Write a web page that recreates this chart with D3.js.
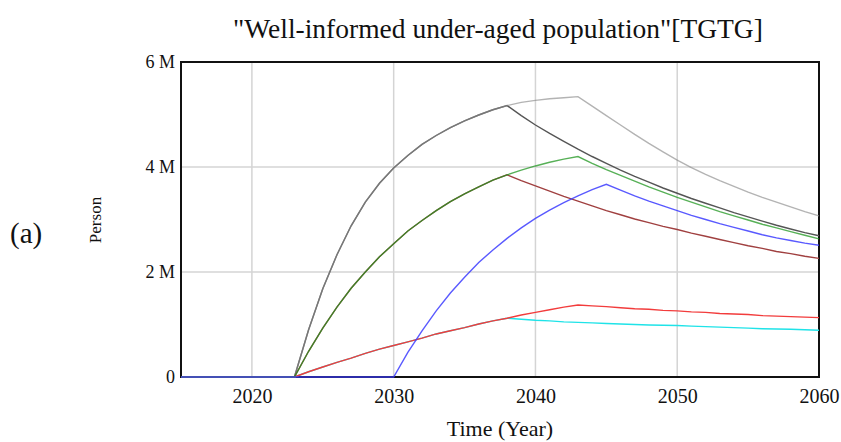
<!DOCTYPE html>
<html>
<head>
<meta charset="utf-8">
<script src="https://cdn.jsdelivr.net/npm/d3@7"></script>
<style>
  body { margin: 0; background: #fff; }
  text { font-family: "Liberation Serif", "Times New Roman", serif; fill: #111; }
</style>
</head>
<body>
<svg id="chart" width="841" height="442"></svg>
<script>
"use strict";

// years on the time axis
var years = [2015, 2016, 2017, 2018, 2019, 2020, 2021, 2022, 2023, 2024, 2025, 2026, 2027, 2028, 2029, 2030,
    2031, 2032, 2033, 2034, 2035, 2036, 2037, 2038, 2039, 2040, 2041, 2042, 2043, 2044, 2045, 2046,
    2047, 2048, 2049, 2050, 2051, 2052, 2053, 2054, 2055, 2056, 2057, 2058, 2059, 2060]

// values in millions of persons, one per year
var lightGray = [0, 0, 0, 0, 0, 0, 0, 0,
    0, 0.9, 1.68, 2.33, 2.88, 3.33, 3.69, 3.98, 4.22, 4.43, 4.60, 4.75, 4.88, 4.99, 5.09, 5.17,
    5.23, 5.27, 5.30, 5.32, 5.34,
    5.16, 4.98, 4.80, 4.62, 4.45, 4.29, 4.13, 3.99, 3.86, 3.74, 3.63, 3.52, 3.42, 3.33, 3.24, 3.15, 3.07]
var darkGray = [0, 0, 0, 0, 0, 0, 0, 0,
    0, 0.9, 1.68, 2.33, 2.88, 3.33, 3.69, 3.98, 4.22, 4.43, 4.60, 4.75, 4.88, 4.99, 5.09, 5.17,
    4.98, 4.80, 4.64, 4.49, 4.34, 4.20, 4.07, 3.94, 3.82, 3.71, 3.60, 3.50, 3.40, 3.31, 3.22, 3.13,
    3.05, 2.97, 2.89, 2.82, 2.75, 2.69]
var green = [0, 0, 0, 0, 0, 0, 0, 0,
    0, 0.49, 0.93, 1.33, 1.69, 2.00, 2.29, 2.54, 2.78, 2.98, 3.17, 3.34, 3.49, 3.62, 3.75, 3.85,
    3.94, 4.02, 4.09, 4.15, 4.20,
    4.07, 3.95, 3.84, 3.73, 3.62, 3.52, 3.42, 3.33, 3.24, 3.15, 3.07, 2.99, 2.91, 2.84, 2.77, 2.70, 2.63]
var darkRed = [0, 0, 0, 0, 0, 0, 0, 0,
    0, 0.49, 0.93, 1.33, 1.69, 2.00, 2.29, 2.54, 2.78, 2.98, 3.17, 3.34, 3.49, 3.62, 3.75, 3.85,
    3.74, 3.64, 3.54, 3.44, 3.35, 3.26, 3.17, 3.09, 3.01, 2.94, 2.87, 2.81, 2.74, 2.68, 2.62, 2.56,
    2.50, 2.45, 2.39, 2.35, 2.30, 2.26]
var blue = [0, 0, 0, 0, 0, 0, 0, 0, 0, 0, 0, 0, 0, 0, 0,
    0, 0.47, 0.88, 1.26, 1.60, 1.90, 2.18, 2.42, 2.64, 2.84, 3.02, 3.18, 3.32, 3.45, 3.57, 3.67,
    3.56, 3.45, 3.35, 3.26, 3.17, 3.08, 3.00, 2.92, 2.85, 2.78, 2.71, 2.65, 2.60, 2.55, 2.51]
var red = [0, 0, 0, 0, 0, 0, 0, 0,
    0, 0.10, 0.19, 0.28, 0.36, 0.45, 0.53, 0.60, 0.67, 0.74, 0.82, 0.88, 0.94, 1.01, 1.07, 1.12,
    1.18, 1.23, 1.28, 1.33, 1.37,
    1.355, 1.34, 1.32, 1.30, 1.29, 1.27, 1.26, 1.24, 1.23, 1.21, 1.20, 1.19, 1.17, 1.16, 1.15, 1.14, 1.13]
var cyan = [0, 0, 0, 0, 0, 0, 0, 0,
    0, 0.10, 0.19, 0.28, 0.36, 0.45, 0.53, 0.60, 0.67, 0.74, 0.82, 0.88, 0.94, 1.01, 1.07, 1.12,
    1.10, 1.08, 1.07, 1.05, 1.04, 1.03, 1.02, 1.01, 1.00, 0.99, 0.985, 0.98, 0.97, 0.96, 0.95, 0.94,
    0.93, 0.92, 0.915, 0.91, 0.90, 0.89]

var xTicks = [2020, 2030, 2040, 2050, 2060]
var yTicks = [0, 2, 4, 6]

// drawing order: first is at the bottom
var series = [
    { values: cyan, color: "#1fe3e8", opacity: 1 },
    { values: red, color: "#f23c3c", opacity: 1 },
    { values: darkGray, color: "#555555", opacity: 1 },
    { values: lightGray, color: "#8a8a8a", opacity: 0.65 },
    { values: darkRed, color: "#a04040", opacity: 1 },
    { values: green, color: "#1f951f", opacity: 0.75 },
    { values: blue, color: "#3c3cff", opacity: 0.85 }
]

var svg = d3.select("#chart")
var plot = { left: 181, right: 819, top: 62, bottom: 377 }

var x = d3.scaleLinear().domain([2015, 2060]).range([plot.left, plot.right])
var y = d3.scaleLinear().domain([0, 6]).range([plot.bottom, plot.top])

// grid lines
var grid = svg.append("g").attr("class", "grid")
grid.selectAll("line.v")
    .data(xTicks.filter(d => d < 2060))
    .enter().append("line")
    .attr("x1", d => x(d)).attr("x2", d => x(d))
    .attr("y1", plot.top).attr("y2", plot.bottom)
    .attr("stroke", "#d4d4d4").attr("stroke-width", 1.5)
grid.selectAll("line.h")
    .data(yTicks.filter(d => d > 0 && d < 6))
    .enter().append("line")
    .attr("x1", plot.left).attr("x2", plot.right)
    .attr("y1", d => y(d)).attr("y2", d => y(d))
    .attr("stroke", "#d4d4d4").attr("stroke-width", 1.5)

// frame
svg.append("rect")
    .attr("x", plot.left).attr("y", plot.top)
    .attr("width", plot.right - plot.left).attr("height", plot.bottom - plot.top)
    .attr("fill", "none").attr("stroke", "#111").attr("stroke-width", 2)

// axes (labels only)
var xAxis = svg.append("g")
    .attr("transform", "translate(0," + plot.bottom + ")")
    .call(d3.axisBottom(x).tickValues(xTicks).tickFormat(d3.format("d")).tickSize(0).tickPadding(12))
xAxis.select(".domain").remove()
xAxis.selectAll("text").attr("font-size", 20).attr("font-family", "Liberation Serif").attr("fill", "#1a1a1a")

var yAxis = svg.append("g")
    .attr("transform", "translate(" + (plot.left - 6) + ",0)")
    .call(d3.axisLeft(y).tickValues(yTicks).tickFormat(d => d === 0 ? "0" : d + " M").tickSize(0).tickPadding(0))
yAxis.select(".domain").remove()
yAxis.selectAll("text").attr("font-size", 18).attr("font-family", "Liberation Serif").attr("fill", "#1a1a1a")

// lines
var line = d3.line()
    .x((d, i) => x(years[i]))
    .y(d => y(d))

svg.append("g").selectAll("path")
    .data(series)
    .enter().append("path")
    .attr("d", d => line(d.values))
    .attr("fill", "none")
    .attr("stroke", d => d.color)
    .attr("stroke-width", 1.4)
    .attr("stroke-opacity", d => d.opacity)

// texts
svg.append("text")
    .attr("x", 498).attr("y", 38)
    .attr("text-anchor", "middle")
    .attr("font-size", 27.5)
    .text("\"Well-informed under-aged population\"[TGTG]")

svg.append("text")
    .attr("x", 500).attr("y", 436)
    .attr("text-anchor", "middle")
    .attr("font-size", 22)
    .text("Time (Year)")

svg.append("text")
    .attr("transform", "translate(101,220) rotate(-90)")
    .attr("text-anchor", "middle")
    .attr("font-size", 17)
    .text("Person")

svg.append("text")
    .attr("x", 10).attr("y", 243)
    .attr("font-size", 29)
    .text("(a)")
</script>
</body>
</html>
